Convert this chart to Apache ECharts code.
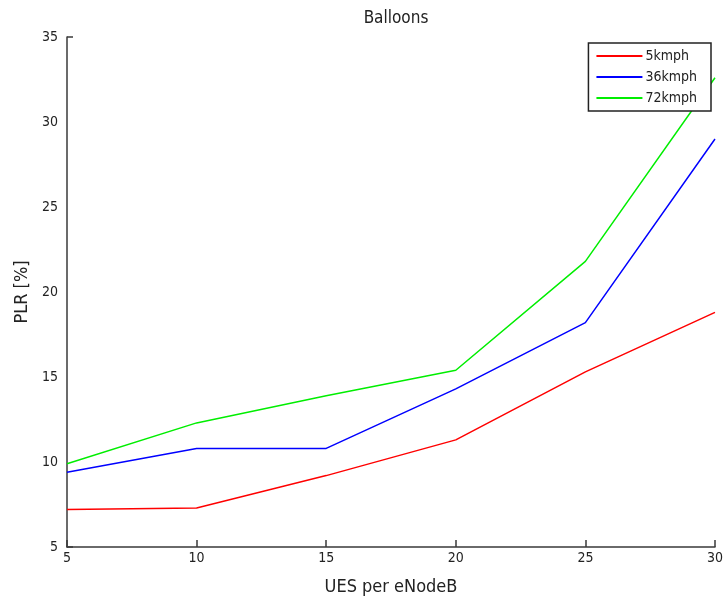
<!DOCTYPE html>
<html>
<head>
<meta charset="utf-8">
<script src="https://cdn.jsdelivr.net/npm/echarts@6/dist/echarts.min.js"></script>
<style>
  html, body { margin: 0; padding: 0; background: #ffffff; }
  #chart { width: 726px; height: 604px; }
</style>
</head>
<body>
<div id="chart"></div>
<script>
// UEs per eNodeB (x) and packet loss rate in percent for each speed
const ues = [5, 10, 15, 20, 25, 30];
const plr5kmph  = [7.2, 7.3, 9.2, 11.3, 15.3, 18.8];
const plr36kmph = [9.4, 10.8, 10.8, 14.3, 18.2, 29.0];
const plr72kmph = [9.9, 12.3, 13.9, 15.4, 21.8, 32.6];
const seriesNames = ['5kmph', '36kmph', '72kmph'];
const seriesColors = ['#ff0000', '#0000ff', '#00ee00'];

const FONT = '"Liberation Sans Narrow", "DejaVu Sans Condensed", "Liberation Sans", sans-serif';
const AXIS_COLOR = '#3a3a3a';

const pairs = ys => ues.map((x, i) => [x, ys[i]]);
const allValues = [plr5kmph, plr36kmph, plr72kmph];

const chart = echarts.init(document.getElementById('chart'), null, { renderer: 'canvas' });

chart.setOption({
  animation: false,
  backgroundColor: '#ffffff',
  title: {
    text: 'Balloons',
    left: 391,
    top: 5,
    textAlign: 'center',
    textStyle: { fontFamily: FONT, fontSize: 17, fontWeight: 'normal', color: '#222' }
  },
  legend: {
    data: seriesNames,
    orient: 'vertical',
    right: 15,
    top: 43,
    itemWidth: 46,
    itemHeight: 2,
    itemGap: 7,
    padding: [6, 14, 6, 8],
    backgroundColor: '#ffffff',
    borderColor: '#222',
    borderWidth: 1.5,
    borderRadius: 0,
    icon: 'rect',
    textStyle: { fontFamily: FONT, fontSize: 14, color: '#222', padding: [0, 0, 0, -2] }
  },
  grid: { left: 67, right: 10, top: 37, bottom: 57, containLabel: false },
  xAxis: {
    type: 'value',
    min: 5,
    max: 30,
    interval: 5,
    name: 'UES per eNodeB',
    nameLocation: 'middle',
    nameGap: 31,
    nameTextStyle: { fontFamily: FONT, fontSize: 18, color: '#222' },
    axisLine: { lineStyle: { color: AXIS_COLOR, width: 1.5 } },
    axisTick: { inside: true, length: 7, lineStyle: { color: AXIS_COLOR, width: 1.5 } },
    axisLabel: { fontFamily: FONT, fontSize: 14, color: '#222', margin: 4 },
    splitLine: { show: false }
  },
  yAxis: [
    {
      type: 'value',
      min: 5,
      max: 35,
      interval: 5,
      name: 'PLR [%]',
      nameLocation: 'middle',
      nameGap: 35,
      nameTextStyle: { fontFamily: FONT, fontSize: 18, color: '#222' },
      axisLine: { show: true, lineStyle: { color: AXIS_COLOR, width: 1.5 } },
      axisTick: { show: false },
      axisLabel: { fontFamily: FONT, fontSize: 14, color: '#222', margin: 9 },
      splitLine: { show: false }
    },
    {
      // end ticks only (top of the y range)
      type: 'value',
      position: 'left',
      min: 5,
      max: 35,
      interval: 30,
      axisLine: { show: false },
      axisTick: { show: true, inside: true, length: 6, lineStyle: { color: AXIS_COLOR, width: 1.5 } },
      axisLabel: { show: false },
      splitLine: { show: false }
    }
  ],
  series: allValues.map((ys, k) => ({
    name: seriesNames[k],
    type: 'line',
    data: pairs(ys),
    showSymbol: false,
    symbol: 'none',
    lineStyle: { color: seriesColors[k], width: 1.5 },
    itemStyle: { color: seriesColors[k] },
    z: 2
  }))
});
</script>
</body>
</html>
